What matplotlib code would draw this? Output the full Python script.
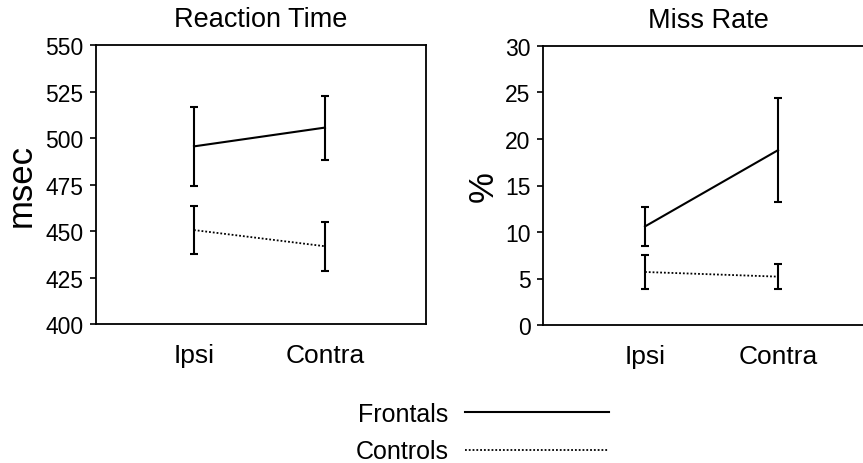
import matplotlib
matplotlib.use("Agg")
import matplotlib.pyplot as plt
import numpy as np

plt.rcParams['font.family'] = ['Liberation Sans', 'DejaVu Sans']

conditions = ["Ipsi", "Contra"]
groups = ["Frontals", "Controls"]

rt_frontals = [495.5, 505.6]
rt_frontals_err = [21.4, 17.2]
rt_controls = [450.5, 441.8]
rt_controls_err = [13.0, 13.3]

mr_frontals = [10.6, 18.8]
mr_frontals_err = [2.1, 5.6]
mr_controls = [5.7, 5.2]
mr_controls_err = [1.85, 1.35]

rt_ticks = [400, 425, 450, 475, 500, 525, 550]
mr_ticks = [0, 5, 10, 15, 20, 25, 30]

W, H = 863, 464
fig = plt.figure(figsize=(W / 100, H / 100), dpi=100)

def px_axes(left, top, right, bottom):
    return [left / W, 1 - bottom / H, (right - left) / W, (bottom - top) / H]

ax1 = fig.add_axes(px_axes(96, 46, 426, 325))
ax2 = fig.add_axes(px_axes(543, 47, 873, 326))

x = np.arange(1, len(conditions) + 1)

def draw(ax, fr, fr_err, co, co_err, ticks, xlim, title, ylabel, ylab_x):
    ax.plot(x, fr, color='black', lw=1.5, ls='-', label=groups[0])
    ax.errorbar(x, fr, yerr=fr_err, fmt='none', ecolor='black', elinewidth=1.5,
                capsize=3.2, capthick=1.5)
    ax.plot(x, co, color='black', lw=1.3, ls=(0, (1, 1.1)), label=groups[1])
    ax.errorbar(x, co, yerr=co_err, fmt='none', ecolor='black', elinewidth=1.5,
                capsize=3.2, capthick=1.5)
    ax.set_ylim(ticks[0], ticks[-1])
    ax.set_yticks(ticks)
    ax.set_xlim(*xlim)
    ax.set_xticks(x)
    ax.set_xticklabels(conditions)
    ax.tick_params(axis='y', direction='out', length=4.5, width=1.2, pad=4.5,
                   labelsize=16.5, colors='black')
    ax.tick_params(axis='x', length=0, pad=14, labelsize=19)
    for s in ax.spines.values():
        s.set_linewidth(1.3)
    ax.set_title(title, fontsize=19.5, pad=13.5)
    ax.set_ylabel(ylabel, fontsize=25)
    lab = ax.yaxis.label
    lab.set_rotation_mode('default')
    lab.set_va('center')
    lab.set_ha('center')
    ax.yaxis.set_label_coords(ylab_x, 0.5)

draw(ax1, rt_frontals, rt_frontals_err, rt_controls, rt_controls_err, rt_ticks,
     (0.252, 2.771), "Reaction Time", "msec", (21 - 96) / 330)
draw(ax2, mr_frontals, mr_frontals_err, mr_controls, mr_controls_err, mr_ticks,
     (0.233, 2.714), "Miss Rate", "%", (483 - 543) / 330)

handles, labels = ax1.get_legend_handles_labels()
leg = fig.legend(handles, labels, loc='center', bbox_to_anchor=(482 / W, 1 - 433.5 / H),
                 frameon=False, markerfirst=False, fontsize=18,
                 handlelength=5.75, handletextpad=0.65, labelspacing=0.55,
                 borderpad=0, borderaxespad=0)

fig.savefig("out.png", dpi=100)
